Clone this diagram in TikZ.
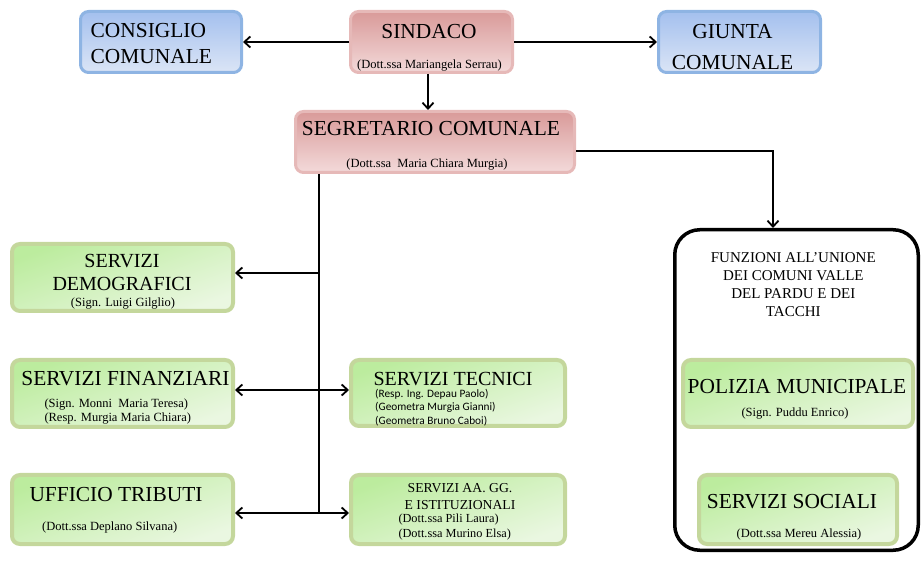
\documentclass[tikz,border=0pt]{standalone}
\usepackage{fontspec}
\setmainfont{Liberation Serif}
\newfontfamily\calibri{Carlito}
\usetikzlibrary{arrows.meta}

\definecolor{blueline}{HTML}{8EB4E3}
\definecolor{bluetop}{HTML}{A4C0EE}
\definecolor{bluebot}{HTML}{DBE5F6}
\definecolor{redline}{HTML}{E6B9B8}
\definecolor{redtop}{HTML}{D99A99}
\definecolor{redbot}{HTML}{F3DADA}
\definecolor{greenline}{HTML}{C4D79C}
\definecolor{greentop}{HTML}{BCEC9E}
\definecolor{greenbot}{HTML}{EAF7E1}

\begin{document}
\begin{tikzpicture}[x=1pt,y=-1pt,
        box/.style={rounded corners=8pt,inner sep=0pt},
        bluebox/.style={box,line width=3pt,draw=blueline,top color=bluetop,bottom color=bluebot},
        redbox/.style={box,line width=3pt,draw=redline,top color=redtop,bottom color=redbot},
        greenbox/.style={box,line width=4pt,draw=greenline,top color=greentop,bottom color=greenbot,shading angle=20},
        title/.style={inner sep=0pt,font=\fontsize{21.4}{26}\selectfont},
        who/.style={inner sep=0pt,font=\fontsize{12.5}{14.3}\selectfont},
        link/.style={line width=1.8pt,-{Straight Barb[length=6pt,width=11pt]}},
        both/.style={line width=1.8pt,{Straight Barb[length=6pt,width=11pt]}-{Straight Barb[length=6pt,width=11pt]}}]
        \useasboundingbox (0,0) rectangle (922,561);

        % Top row
        \node (consiglio)  at (161,42)    [bluebox,minimum width=161pt,minimum height=61pt] {};
        \node (sindaco)    at (431.5,42)  [redbox,minimum width=162pt,minimum height=61pt] {};
        \node (giunta)     at (739.5,42)  [bluebox,minimum width=162pt,minimum height=61pt] {};
        \node (segretario) at (435,142)   [redbox,minimum width=279pt,minimum height=61pt] {};

        % Left column
        \node (demografici) at (122.5,277.5) [greenbox,minimum width=221pt,minimum height=67pt] {};
        \node (finanziari)  at (122.5,393.5) [greenbox,minimum width=221pt,minimum height=67pt] {};
        \node (tributi)     at (122.5,509.5) [greenbox,minimum width=221pt,minimum height=69pt] {};

        % Middle column
        \node (tecnici) at (458,393)   [greenbox,minimum width=214pt,minimum height=66pt] {};
        \node (aagg)    at (458,509.5) [greenbox,minimum width=214pt,minimum height=69pt] {};

        % Unione
        \node (unione)  at (796.5,390)   [draw,line width=3.5pt,rounded corners=25pt,minimum width=243.5pt,minimum height=320.5pt] {};
        \node (polizia) at (798,393.5)   [greenbox,minimum width=230pt,minimum height=67pt] {};
        \node (sociali) at (798,509.5)   [greenbox,minimum width=198pt,minimum height=69pt] {};

        % Texts
        \node (Tconsiglio)  at (90.5,43.8) [title,anchor=west,align=left] {CONSIGLIO\\COMUNALE};
        \node (Tsindaco)    at (429,31.7)  [title] {SINDACO};
        \node (Psindaco)    at (429.5,65.3) [who] {(Dott.ssa Mariangela Serrau)};
        \node (Tgiunta)     at (732.5,47)  [title,align=center,font=\fontsize{21.4}{30.7}\selectfont] {GIUNTA\\COMUNALE};
        \node (Tsegretario) at (431,128.8) [title] {SEGRETARIO COMUNALE};
        \node (Psegretario) at (427,164.7) [who] {(Dott.ssa\ \ Maria Chiara Murgia)};

        \node (Tdemografici) at (122,272.5) [title,align=center,font=\fontsize{20}{22.7}\selectfont] {SERVIZI\\DEMOGRAFICI};
        \node (Pdemografici) at (123,303.8) [who] {(Sign. Luigi Gilglio)};
        \node (Tfinanziari)  at (125.5,378.8) [title] {SERVIZI FINANZIARI};
        \node (Pfinanziari)  at (44.3,411.3) [who,anchor=west,align=left] {(Sign. Monni\ \ Maria Teresa)\\(Resp. Murgia Maria Chiara)};
        \node (Ttributi)     at (116,494.5) [title] {UFFICIO TRIBUTI};
        \node (Ptributi)     at (109.7,527.5) [who] {(Dott.ssa Deplano Silvana)};

        \node (Ttecnici) at (453,379.3) [title,font=\fontsize{20}{24}\selectfont] {SERVIZI TECNICI};
        \node (Ptecnici) at (375,407.5) [who,anchor=west,align=left,font=\calibri\fontsize{11.3}{13.5}\selectfont] {(Resp. Ing. Depau Paolo)\\(Geometra Murgia Gianni)\\(Geometra Bruno Caboi)};
        \node (Taagg)    at (460,496.3) [title,align=center,font=\fontsize{13.7}{17.5}\selectfont] {SERVIZI AA.\ GG.\\E ISTITUZIONALI};
        \node (Paagg)    at (398.3,526.7) [who,anchor=west,align=left,font=\fontsize{12.3}{15}\selectfont] {(Dott.ssa Pili Laura)\\(Dott.ssa Murino Elsa)};

        \node (Tunione)  at (793.3,285) [title,align=center,font=\fontsize{15}{18}\selectfont] {FUNZIONI ALL’UNIONE\\DEI COMUNI VALLE\\DEL PARDU E DEI\\TACCHI};
        \node (Tpolizia) at (797,386.3) [title] {POLIZIA MUNICIPALE};
        \node (Ppolizia) at (795,413.3) [who] {(Sign. Puddu Enrico)};
        \node (Tsociali) at (792,501.7) [title] {SERVIZI SOCIALI};
        \node (Psociali) at (799,534.3) [who] {(Dott.ssa Mereu Alessia)};

        % Connectors
        \coordinate (turn)  at (773,151);
        \coordinate (jdemo) at (319,273);
        \coordinate (jfin)  at (319,390);
        \coordinate (jtrib) at (319,513);

        \draw[link] (sindaco) -- (consiglio);
        \draw[link] (sindaco) -- (giunta);
        \draw[link] ([xshift=-3.5pt]sindaco.south) -- ([xshift=-3.5pt]sindaco.south |- segretario.north);
        \draw[link] (segretario.east |- turn) -- (turn) -- (turn |- unione.north);
        \draw[line width=1.8pt] (segretario.south -| jtrib) -- (jtrib);
        \draw[link] (jdemo) -- (jdemo -| demografici.east);
        \draw[both] (jfin -| finanziari.east) -- (jfin -| tecnici.west);
        \draw[both] (jtrib -| tributi.east) -- (jtrib -| aagg.west);
    \end{tikzpicture}
\end{document}
